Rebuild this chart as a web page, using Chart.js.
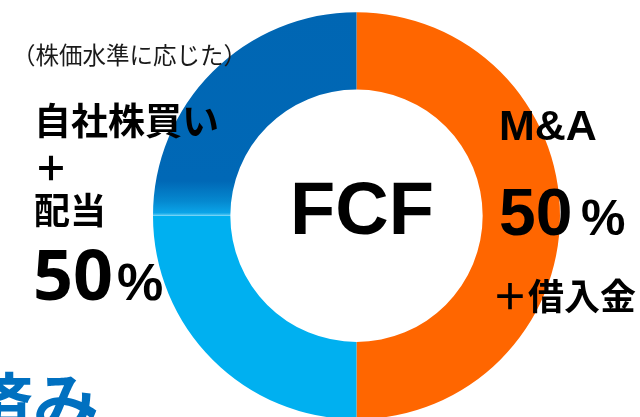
<!DOCTYPE html>
<html lang="ja">
<head>
<meta charset="utf-8">
<script src="https://cdn.jsdelivr.net/npm/chart.js@4/dist/chart.umd.min.js"></script>
<style>
  html, body { margin: 0; padding: 0; background: #fff; overflow: hidden; }
  #wrap { position: absolute; left: 0; top: 0; width: 640px; height: 430px; }
</style>
</head>
<body>
<div id="wrap"><canvas id="fcf"></canvas></div>
<script>
// -------------------------
// DATA
// -------------------------
const segLabels = ["M&A", "配当", "自社株買い"];
const segValues = [50, 25, 25];
const segColors = ["#FF6600", "#00B0F0", "#0068B6"];

const JP = '"Noto Sans CJK JP", "Noto Sans", sans-serif';
const LAT = '"Liberation Sans", Arial, sans-serif';

// last quarter fades into the light blue one near the left edge
function segFill(ctx) {
  const area = ctx.chart.chartArea;
  if (ctx.dataIndex !== 2 || !area) return segColors[ctx.dataIndex];
  const cy = (area.top + area.bottom) / 2;
  const g = ctx.chart.ctx.createLinearGradient(0, area.top, 0, cy);
  g.addColorStop(0, "#0066B3");
  g.addColorStop(0.83, "#0068B6");
  g.addColorStop(0.93, "#0589D0");
  g.addColorStop(0.985, "#0AA4E8");
  g.addColorStop(1, "#60CDF5");
  return g;
}

// -------------------------
// TEXT LABELS
// -------------------------
const labelPlugin = {
  id: "fcfLabels",
  afterDraw(chart) {
    const c = chart.ctx;
    const maShare = segValues[0];
    const returnShare = segValues[1] + segValues[2];

    c.save();
    c.fillStyle = "#000";
    c.textBaseline = "middle";

    // centre
    c.textAlign = "center";
    c.font = "bold 74px " + LAT;
    c.fillText("FCF", 362, 214);

    // left block
    c.textAlign = "left";
    c.fillStyle = "#1a1a1a";
    c.font = "23.5px " + JP;
    c.fillText("（株価水準に応じた）", 12, 55);

    c.fillStyle = "#000";
    c.font = "bold 37px " + JP;
    c.fillText(segLabels[2], 34, 121);
    c.textAlign = "center";
    c.font = "900 34px " + JP;
    c.fillText("＋", 51, 168);
    c.textAlign = "left";
    c.font = "bold 36px " + JP;
    c.fillText(segLabels[1], 34, 210);

    c.textBaseline = "alphabetic";
    c.font = "bold 70px \"Open Sans\", " + LAT;
    c.fillText(String(returnShare), 33, 300);
    const lw = c.measureText(String(returnShare)).width;
    c.font = "bold 52px " + LAT;
    c.fillText("%", 33 + lw + 4, 300);

    // right block
    c.textBaseline = "middle";
    c.font = "bold 43px " + LAT;
    c.fillText(segLabels[0], 499, 128);

    c.textBaseline = "alphabetic";
    c.font = "bold 66px " + LAT;
    c.fillText(String(maShare), 499, 235);
    c.font = "bold 50px " + LAT;
    c.fillText("%", 581, 235);

    c.textBaseline = "middle";
    c.font = "bold 36px " + JP;
    c.fillText("＋借入金", 492, 296);

    // cut-off heading at the bottom edge
    c.textBaseline = "alphabetic";
    c.fillStyle = "#0070C0";
    c.font = "bold 66px " + JP;
    c.fillText("済み", -33, 428);

    c.restore();
  }
};

// -------------------------
// CHART
// -------------------------
new Chart(document.getElementById("fcf"), {
  type: "doughnut",
  data: {
    labels: segLabels,
    datasets: [{
      data: segValues,
      backgroundColor: segFill,
      borderWidth: 0,
      hoverOffset: 0,
      offset: 0
    }]
  },
  options: {
    responsive: true,
    maintainAspectRatio: false,
    animation: false,
    cutout: "62%",
    layout: { padding: { top: 12, bottom: 10.5, left: 153, right: 80 } },
    plugins: {
      legend: { display: false },
      tooltip: { enabled: false }
    }
  },
  plugins: [labelPlugin]
});
</script>
</body>
</html>
